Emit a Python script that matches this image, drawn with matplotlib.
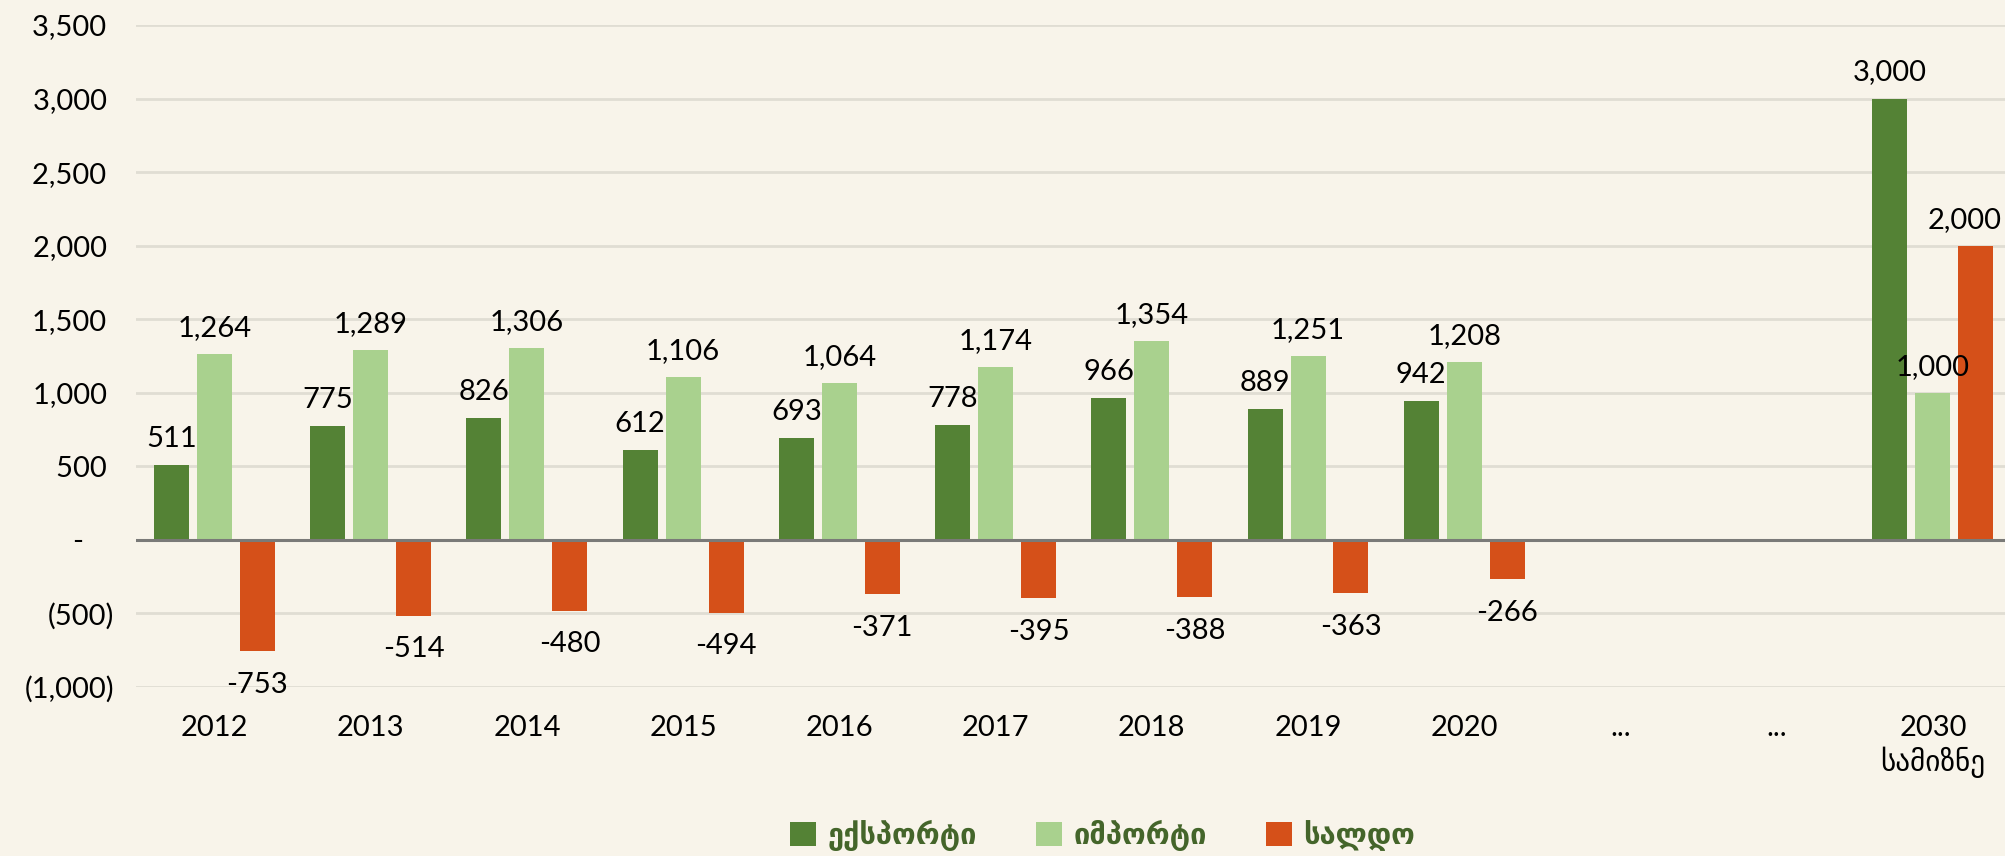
import numpy as np
import matplotlib.pyplot as plt

plt.rcParams['font.family'] = ['Lato', 'DejaVu Sans']

# ---------- Data ----------
categories = ["2012", "2013", "2014", "2015", "2016", "2017", "2018",
              "2019", "2020", "...", "...", "2030\nსამიზნე"]
export_vals = [511, 775, 826, 612, 693, 778, 966, 889, 942, None, None, 3000]
import_vals = [1264, 1289, 1306, 1106, 1064, 1174, 1354, 1251, 1208, None, None, 1000]
saldo_vals = [-753, -514, -480, -494, -371, -395, -388, -363, -266, None, None, 2000]
series_names = ["ექსპორტი", "იმპორტი", "სალდო"]
yticks = [-1000, -500, 0, 500, 1000, 1500, 2000, 2500, 3000, 3500]

# ---------- Style ----------
BG = "#F8F4EA"
colors = ["#548235", "#A9D18E", "#D55019"]
bar_w = 0.224
step = 0.275
FS = 21


def acct(v):
    if v == 0:
        return "-    "
    if v < 0:
        return f"({abs(v):,.0f})"
    return f"{v:,.0f} "


def main():
    fig = plt.figure(figsize=(20.05, 8.56), dpi=100, facecolor=BG)
    ax = fig.add_axes([0.068, 0.1974, 0.935, 0.7734], facecolor=BG)

    x = np.arange(len(categories))
    all_series = [export_vals, import_vals, saldo_vals]
    last = len(categories) - 1

    for i, (vals, col, name) in enumerate(zip(all_series, colors, series_names)):
        idx = [k for k, v in enumerate(vals) if v is not None]
        xs = x[idx] + (i - 1) * step
        ys = [vals[k] for k in idx]
        ax.bar(xs, ys, width=bar_w, color=col, label=name, zorder=3)
        for k, xx, yy in zip(idx, xs, ys):
            # keep the right-most label inside the figure
            dx = -8 if (k == last and i == 2) else 0
            if yy >= 0:
                ax.annotate(f"{yy:,}", (xx, yy), xytext=(dx, 13),
                            textcoords="offset points", ha="center",
                            va="baseline", fontsize=FS, zorder=4)
            else:
                ax.annotate(f"{yy:,}", (xx, yy),
                            xytext=(dx, -15), textcoords="offset points",
                            ha="center", va="top", fontsize=FS, zorder=4)

    ax.set_xlim(-0.5, len(categories) - 0.5)
    ax.set_ylim(-1000, 3500)
    ax.set_yticks(yticks)
    ax.set_yticklabels([acct(v) for v in yticks], fontsize=FS)
    ax.set_xticks(x)
    ax.set_xticklabels(categories, fontsize=FS, linespacing=1.25)
    ax.tick_params(axis="both", length=0)
    ax.tick_params(axis="y", pad=16)
    ax.tick_params(axis="x", pad=20)

    ax.grid(axis="y", color="#E0DDD3", linewidth=2, zorder=0)
    ax.axhline(0, color="#7A7A78", linewidth=2.2, zorder=5)
    for s in ax.spines.values():
        s.set_visible(False)

    leg = fig.legend(loc="center", bbox_to_anchor=(0.55, 0.024), ncol=3,
                     frameon=False, handlelength=0.9, handleheight=0.9,
                     handletextpad=0.4, columnspacing=2.0,
                     prop={"family": ["DejaVu Sans"], "weight": "bold",
                           "size": 21})
    for t in leg.get_texts():
        t.set_color("#44652A")

    fig.savefig("out.png", dpi=100, facecolor=BG)


if __name__ == "__main__":
    main()
